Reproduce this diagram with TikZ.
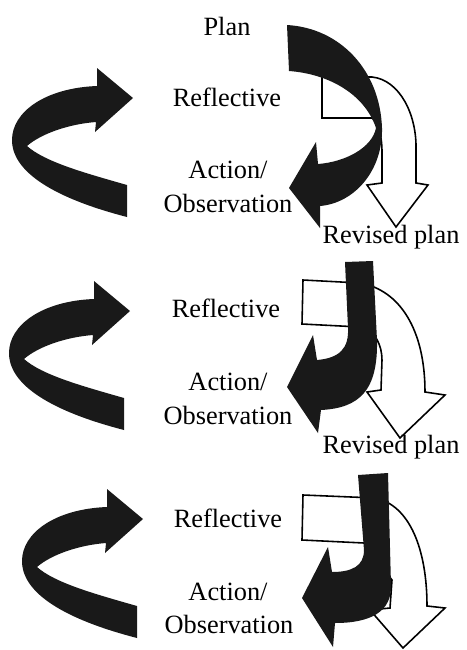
\documentclass[tikz,border=0pt]{standalone}
\usepackage{fontspec}
\setmainfont{Liberation Serif}
\newcommand\LeftRib{%
  \fill[dark] (127,185) .. controls (85,173) and (45,162) .. (27,146)
    .. controls (42,133) and (70,124) .. (96,122)
    -- (95,132) -- (133,98) -- (97,68) -- (97,86)
    .. controls (45,88) and (12,112) .. (12,140)
    .. controls (12,176) and (65,201) .. (127,217) -- cycle;}
\begin{document}
\begin{tikzpicture}[x=0.02cm,y=-0.02cm,
  dark/.style={fill=black!90},
  wht/.style={fill=white,draw=black,line width=0.9pt,line join=miter},
  lbl/.style={font=\fontsize{15}{18}\selectfont,anchor=base,inner sep=0pt}]
\useasboundingbox[fill=white] (0,0) rectangle (467,650);

% ---------- left ribbons ----------
\LeftRib
\begin{scope}[shift={(-3,213)}]\LeftRib\end{scope}
\begin{scope}[shift={(10,421)}]\LeftRib\end{scope}

% ---------- section 1 right ----------
\filldraw[wht] (322,77) -- (372,77) .. controls (400,80) and (417,115) .. (416,150)
  -- (416,183) -- (428,185) -- (396,227) -- (367,185) -- (382,183) -- (382,152)
  .. controls (382,135) and (378,122) .. (372,118) -- (322,118) -- cycle;
\fill[dark] (287,25) .. controls (340,28) and (380,70) .. (382,128)
  .. controls (383,170) and (355,203) .. (320,206)
  -- (320,228) -- (289,188) -- (316,142) -- (318,164)
  .. controls (345,162) and (372,148) .. (376,128)
  .. controls (365,95) and (330,74) .. (289,71) -- cycle;

% ---------- section 2 right ----------
\filldraw[wht] (303,280) -- (360,283) .. controls (400,290) and (425,330) .. (425,392)
  -- (445,395) -- (400,438) -- (367,392) -- (381,390) -- (382,360)
  .. controls (382,345) and (375,330) .. (360,327) -- (302,324) -- cycle;
\fill[dark] (345,262) -- (373,261) -- (377,340)
  .. controls (378,390) and (360,408) .. (321,410)
  -- (318,433) -- (287,387) -- (313,335) -- (317,360)
  .. controls (340,358) and (349,348) .. (348,328) -- cycle;

% ---------- section 3 right ----------
\filldraw[wht] (303,495) -- (375,498) .. controls (410,505) and (427,550) .. (427,606)
  -- (445,608) -- (403,648) -- (370,610) -- (390,608) -- (392,580)
  -- (364,543) -- (302,540) -- cycle;
\fill[dark] (358,475) -- (388,473) -- (391,585)
  .. controls (392,612) and (370,623) .. (335,623)
  -- (333,647) -- (302,598) -- (328,547) -- (332,572)
  .. controls (352,572) and (364,566) .. (364,550) -- cycle;

% ---------- labels ----------
\node[lbl] (plan) at (227,35) {Plan};
\node[lbl] (ref1) at (227,106) {Reflective};
\node[lbl] (act1) at (228,178) {Action/};
\node[lbl] (obs1) at (228,212) {Observation};
\node[lbl] (rev1) at (391,243) {Revised plan};
\node[lbl] (ref2) at (226,317) {Reflective};
\node[lbl] (act2) at (228,390) {Action/};
\node[lbl] (obs2) at (228,424) {Observation};
\node[lbl] (rev2) at (391,453) {Revised plan};
\node[lbl] (ref3) at (228,527) {Reflective};
\node[lbl] (act3) at (228,600) {Action/};
\node[lbl] (obs3) at (229,633) {Observation};
\end{tikzpicture}
\end{document}
